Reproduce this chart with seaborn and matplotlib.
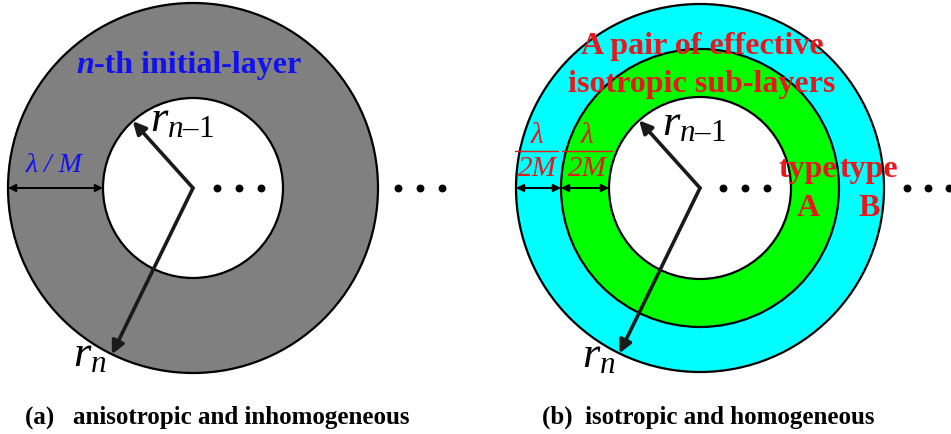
import numpy as np
import matplotlib.pyplot as plt
import seaborn as sns
from matplotlib.patches import Circle

# ------------------------------------------------------------------
# Diagram values (pixel units of the 951x434 canvas)
# ------------------------------------------------------------------
centers_x = [193, 700]
center_y = 188
radii_a = [185, 90]
colors_a = ["#808080", "white"]
radii_b = [184, 139, 91]
colors_b = ["#00FFFF", "#00FF00", "white"]

angle_inner = 132  # degrees, arrow to r_{n-1}
angle_outer = -116  # degrees, arrow to r_n

dots_a_x = [217, 239, 261, 398, 420, 442]
dots_b_x = [723, 745, 767, 907, 928, 949]

captions = ["(a)   anisotropic and inhomogeneous", "(b)  isotropic and homogeneous"]
caption_x = [25, 542]

BLUE = "#1010f0"
RED = "#e8161d"

sns.set_theme(style="white")
plt.rcParams["font.family"] = ["Liberation Serif", "DejaVu Serif"]
plt.rcParams["text.color"] = "black"
plt.rcParams["mathtext.fontset"] = "custom"
plt.rcParams["mathtext.rm"] = "Liberation Serif"
plt.rcParams["mathtext.it"] = "Liberation Serif:italic"
plt.rcParams["mathtext.bf"] = "Liberation Serif:bold"

fig = plt.figure(figsize=(9.51, 4.34), dpi=100)
ax = fig.add_axes([0, 0, 1, 1])


def draw_rings(cx, radii, colors):
    for r, c in zip(radii, colors):
        ax.add_patch(Circle((cx, center_y), r, facecolor=c, edgecolor="black", lw=1.6))


def radius_arrow(cx, r, ang):
    t = np.deg2rad(ang)
    tip = (cx + r * np.cos(t), center_y - r * np.sin(t))
    ax.annotate("", xy=tip, xytext=(cx, center_y),
                arrowprops=dict(arrowstyle="-|>", lw=2.6, color="#1a1a1a",
                                mutation_scale=19, shrinkA=0, shrinkB=0))


def width_arrow(x0, x1):
    ax.annotate("", xy=(x1, center_y), xytext=(x0, center_y),
                arrowprops=dict(arrowstyle="<|-|>", lw=1.4, color="black",
                                mutation_scale=11, shrinkA=0, shrinkB=0))


R_INNER = "$r_{n\\mathrm{\u2013}1}$"
R_OUTER = "$r_{n}$"

# panel (a)
cxa = centers_x[0]
draw_rings(cxa, radii_a, colors_a)
radius_arrow(cxa, radii_a[1], angle_inner)
radius_arrow(cxa, radii_a[0], angle_outer)
width_arrow(cxa - radii_a[0], cxa - radii_a[1])
ax.text(94, 73, "n", fontsize=23, fontweight="bold", style="italic", color=BLUE,
        ha="right", va="baseline")
ax.text(94, 73, "-th initial-layer", fontsize=23, fontweight="bold", color=BLUE,
        ha="left", va="baseline")
ax.text(54, 172, "\u03bb / M", fontsize=20, style="italic", color=BLUE,
        ha="center", va="baseline")
ax.text(150, 131, R_INNER, fontsize=32, ha="left", va="baseline")
ax.text(73, 366, R_OUTER, fontsize=32, ha="left", va="baseline")

# panel (b)
cxb = centers_x[1]
draw_rings(cxb, radii_b, colors_b)
radius_arrow(cxb, radii_b[2], angle_inner)
radius_arrow(cxb, radii_b[0], angle_outer)
width_arrow(cxb - radii_b[0], cxb - radii_b[1])
width_arrow(cxb - radii_b[1], cxb - radii_b[2])
for xc, (x0, x1) in zip([537, 587], [(515, 558), (562, 612)]):
    ax.text(xc, 143, "\u03bb", fontsize=21, style="italic", color=RED, ha="center", va="baseline")
    ax.plot([x0, x1], [151, 151], color=RED, lw=1.0)
    ax.text(xc, 176, "2M", fontsize=21, style="italic", color=RED, ha="center", va="baseline")
ax.text(702, 54, "A pair of effective", fontsize=23, fontweight="bold", color=RED,
        ha="center", va="baseline")
ax.text(702, 92, "isotropic sub-layers", fontsize=23, fontweight="bold", color=RED,
        ha="center", va="baseline")
for xc, lab in zip([808, 869], ["A", "B"]):
    ax.text(xc, 177, "type", fontsize=23, fontweight="bold", color=RED, ha="center", va="baseline")
    ax.text(xc, 216, lab, fontsize=23, fontweight="bold", color=RED, ha="center", va="baseline")
ax.text(662, 135, R_INNER, fontsize=32, ha="left", va="baseline")
ax.text(582, 367, R_OUTER, fontsize=32, ha="left", va="baseline")

# ellipsis dots
sns.scatterplot(x=dots_a_x + dots_b_x, y=[center_y] * 12, color="black", s=32,
                linewidth=0, legend=False, ax=ax, zorder=5)

for x, cap in zip(caption_x, captions):
    ax.text(x, 424, cap, fontsize=18, fontweight="bold", ha="left", va="baseline")

ax.set_xlim(0, 951)
ax.set_ylim(434, 0)
ax.set_aspect("equal")
ax.axis("off")
fig.savefig("out.png", dpi=100, facecolor="white")
